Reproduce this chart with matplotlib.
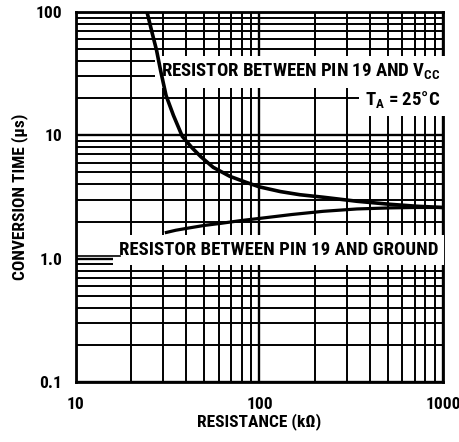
import matplotlib
matplotlib.use("Agg")
import matplotlib.pyplot as plt
from matplotlib.ticker import LogLocator, NullFormatter, FixedLocator, FixedFormatter

# Data
vcc_r = [24.4, 26, 27.5, 29, 31, 34, 38, 43, 48, 56, 69, 85, 100, 130, 166, 222, 340, 514, 720, 1000]
vcc_t = [100, 68, 49, 33, 21, 14.5, 9.8, 7.9, 6.7, 5.5, 4.65, 4.15, 3.82, 3.5, 3.3, 3.15, 2.92, 2.76, 2.66, 2.6]

gnd_r = [30.5, 35, 40, 50, 61, 80, 100, 150, 222, 340, 514, 720, 1000]
gnd_t = [1.62, 1.70, 1.76, 1.86, 1.93, 2.04, 2.12, 2.28, 2.42, 2.53, 2.58, 2.6, 2.6]

x_ticks = [10, 100, 1000]
x_ticklabels = ["10", "100", "1000"]
y_ticks = [0.1, 1.0, 10, 100]
y_ticklabels = ["0.1", "1.0", "10", "100"]

FONT = ["Roboto Condensed", "DejaVu Sans"]
plt.rcParams["font.family"] = FONT
plt.rcParams["mathtext.fontset"] = "custom"
plt.rcParams["mathtext.rm"] = "Roboto Condensed:bold"
plt.rcParams["mathtext.bf"] = "Roboto Condensed:bold"

fig = plt.figure(figsize=(4.6, 4.42), dpi=100)
ax = fig.add_axes([0.165, 0.1357, 0.798, 0.8372])
ax.set_xscale("log")
ax.set_yscale("log")
ax.set_xlim(10, 1000)
ax.set_ylim(0.1, 100)

ax.xaxis.set_major_locator(FixedLocator(x_ticks))
ax.xaxis.set_major_formatter(FixedFormatter(x_ticklabels))
ax.yaxis.set_major_locator(FixedLocator(y_ticks))
ax.yaxis.set_major_formatter(FixedFormatter(y_ticklabels))
ax.xaxis.set_minor_locator(LogLocator(base=10, subs=range(2, 10)))
ax.yaxis.set_minor_locator(LogLocator(base=10, subs=range(2, 10)))
ax.xaxis.set_minor_formatter(NullFormatter())
ax.yaxis.set_minor_formatter(NullFormatter())

ax.grid(True, which="major", color="black", linewidth=1.7)
ax.grid(True, which="minor", color="black", linewidth=1.4)
ax.set_axisbelow(True)
ax.tick_params(which="both", length=0)
ax.tick_params(axis="x", pad=11, labelsize=12.5)
ax.tick_params(axis="y", pad=10, labelsize=12.5)
for lab in ax.get_xticklabels() + ax.get_yticklabels():
    lab.set_fontweight("bold")

for s in ax.spines.values():
    s.set_linewidth(2.0)
    s.set_color("black")

box = dict(boxstyle="square,pad=0.3", facecolor="white", edgecolor="none")
ax.text(0.992, 0.838, "RESISTOR BETWEEN PIN 19 AND V$_{\\mathregular{CC}}$",
        transform=ax.transAxes, ha="right", va="center", fontsize=13.5,
        fontweight="bold", bbox=box, zorder=4)
ax.text(0.992, 0.762, "T$_{\\mathregular{A}}$ = 25°C",
        transform=ax.transAxes, ha="right", va="center", fontsize=13.5,
        fontweight="bold", bbox=box, zorder=4)
ax.text(0.988, 0.357, "RESISTOR BETWEEN PIN 19 AND GROUND",
        transform=ax.transAxes, ha="right", va="center", fontsize=13.5,
        fontweight="bold", bbox=box, zorder=4)
ax.plot([0.0, 0.12], [0.341, 0.341], transform=ax.transAxes, color="black",
        linewidth=1.2, zorder=6)

ax.plot(vcc_r, vcc_t, color="black", linewidth=2.6, solid_capstyle="butt", zorder=6)
ax.plot(gnd_r, gnd_t, color="black", linewidth=2.3, solid_capstyle="butt", zorder=6)

ax.set_ylabel("CONVERSION TIME (µs)", fontsize=12.5, fontweight="bold")
ax.yaxis.set_label_coords(-0.13, 0.5)
ax.set_xlabel("RESISTANCE (kΩ)", fontsize=12.5, fontweight="bold")
ax.xaxis.set_label_coords(0.5, -0.083)

fig.savefig("out.png", dpi=100)
